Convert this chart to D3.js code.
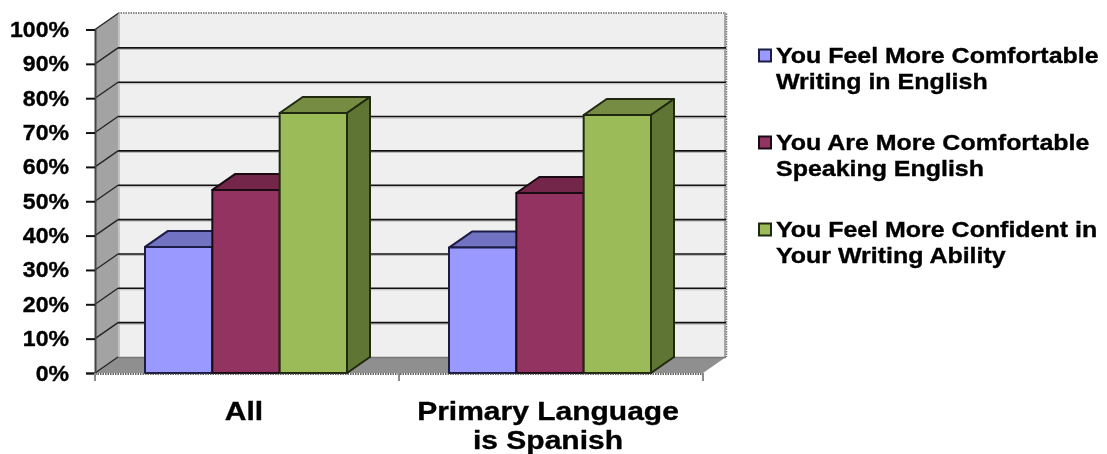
<!DOCTYPE html>
<html>
<head>
<meta charset="utf-8">
<script src="https://d3js.org/d3.v7.min.js"></script>
<style>
  html, body { margin: 0; padding: 0; background: #fff; }
  svg { display: block; filter: blur(0.45px); }
  text { font-family: "Liberation Sans", Arial, sans-serif; font-weight: bold; fill: #000; stroke: #000; stroke-width: 0.35px; }
</style>
</head>
<body>
<div id="chart"></div>
<script>
const groups = ["All", "Primary Language|is Spanish"];
const seriesNames = ["You Feel More Comfortable|Writing in English", "You Are More Comfortable|Speaking English", "You Feel More Confident in|Your Writing Ability"];
const allValues = [36.7, 53.3, 75.7];
const spanishValues = [36.5, 52.4, 75.1];
const yTicks = [0, 10, 20, 30, 40, 50, 60, 70, 80, 90, 100];
const frontColors = ["#9999ff", "#933362", "#9bbb59"];
const topColors = ["#7272c2", "#732649", "#758c42"];
const sideColors = ["#5f5fa8", "#5c1f3d", "#5f7534"];
const strokeColors = ["#1c1c44", "#1a0a12", "#20280f"];

const width = 1107, height = 454;
// the picture's text is wider than plain Liberation bold
const axisStretch = 1.05, legendStretch = 1.135, groupStretch = 1.2;
const depthX = 23, depthY = -16;

const svg = d3.select("#chart").append("svg")
    .attr("width", width)
    .attr("height", height);

const x = d3.scaleBand().domain(groups).range([95, 703]);
const inner = d3.scaleBand().domain(d3.range(3)).range([50, 252]);
const y = d3.scaleLinear().domain([0, 100]).range([373, 29.5]);

const poly = pts => pts.map(p => p.join(",")).join(" ");

// back wall
svg.append("polygon")
    .attr("points", poly([[95 + depthX, y(100) + depthY], [703 + depthX, y(100) + depthY], [703 + depthX, y(0) + depthY], [95 + depthX, y(0) + depthY]]))
    .attr("fill", "#efefef");

// shaded edges of the back wall
svg.append("line").attr("x1", 95 + depthX + 1).attr("x2", 95 + depthX + 1).attr("y1", y(100) + depthY).attr("y2", y(0) + depthY)
    .attr("stroke", "#c4c4c4").attr("stroke-width", 2);
svg.append("line").attr("x1", 703 + depthX - 1).attr("x2", 703 + depthX - 1).attr("y1", y(100) + depthY).attr("y2", y(0) + depthY)
    .attr("stroke", "#a8a8a8").attr("stroke-width", 2);
svg.append("line").attr("x1", 95 + depthX).attr("x2", 703 + depthX).attr("y1", y(100) + depthY - 0.5).attr("y2", y(100) + depthY - 0.5)
    .attr("stroke", "#666").attr("stroke-width", 1.5).attr("stroke-dasharray", "1.5 1");
svg.append("line").attr("x1", 703 + depthX + 0.5).attr("x2", 703 + depthX + 0.5).attr("y1", y(100) + depthY).attr("y2", y(0) + depthY)
    .attr("stroke", "#777").attr("stroke-width", 1.5).attr("stroke-dasharray", "1.5 1");

// left wall and floor
svg.append("polygon")
    .attr("points", poly([[95, y(100)], [95 + depthX, y(100) + depthY], [95 + depthX, y(0) + depthY], [95, y(0)]]))
    .attr("fill", "#a3a3a3");
svg.append("polygon")
    .attr("points", poly([[95, y(0)], [703, y(0)], [703 + depthX, y(0) + depthY], [95 + depthX, y(0) + depthY]]))
    .attr("fill", "#8f8f8f");

// gridlines along back wall, then slanting down the left wall
const gridTicks = yTicks.slice(1, -1);
svg.selectAll(".grid-shadow").data(gridTicks).enter().append("line")
    .attr("x1", 95 + depthX).attr("x2", 703 + depthX)
    .attr("y1", d => y(d) + depthY + 1.5).attr("y2", d => y(d) + depthY + 1.5)
    .attr("stroke", "#b5b5b5").attr("stroke-width", 1);
svg.selectAll(".grid").data(gridTicks).enter().append("line")
    .attr("x1", 95 + depthX).attr("x2", 703 + depthX)
    .attr("y1", d => y(d) + depthY).attr("y2", d => y(d) + depthY)
    .attr("stroke", "#111").attr("stroke-width", 1.6);
svg.selectAll(".slant").data(yTicks).enter().append("line")
    .attr("x1", 95).attr("x2", 95 + depthX)
    .attr("y1", d => y(d)).attr("y2", d => y(d) + depthY)
    .attr("stroke", "#222").attr("stroke-width", 1.3);
svg.append("line")
    .attr("x1", 95 + depthX).attr("x2", 703 + depthX)
    .attr("y1", y(0) + depthY + 0.5).attr("y2", y(0) + depthY + 0.5)
    .attr("stroke", "#777").attr("stroke-width", 1.5);

// bars, left to right so the next front covers the previous side
const rows = [allValues, spanishValues];
groups.forEach((g, gi) => {
    rows[gi].forEach((v, si) => {
        const x0 = x(g) + inner(si), x1 = x0 + inner.bandwidth();
        const yTop = y(v), yBase = y(0);
        const bar = svg.append("g").attr("stroke", strokeColors[si]).attr("stroke-width", 2).attr("stroke-linejoin", "round");
        bar.append("polygon")
            .attr("points", poly([[x0, yTop], [x1, yTop], [x1 + depthX, yTop + depthY], [x0 + depthX, yTop + depthY]]))
            .attr("fill", topColors[si]);
        bar.append("polygon")
            .attr("points", poly([[x1, yTop], [x1 + depthX, yTop + depthY], [x1 + depthX, yBase + depthY], [x1, yBase]]))
            .attr("fill", sideColors[si]);
        bar.append("rect")
            .attr("x", x0).attr("y", yTop)
            .attr("width", x1 - x0).attr("height", yBase - yTop)
            .attr("fill", frontColors[si]);
    });
});

// y axis
const yAxis = svg.append("g")
    .attr("transform", "translate(95,0)")
    .call(d3.axisLeft(y).tickValues(yTicks).tickFormat(d => d + "%").tickSize(9).tickPadding(17));
yAxis.select(".domain").attr("stroke", "#444").attr("stroke-width", 2);
yAxis.selectAll(".tick line").attr("stroke", "#111").attr("stroke-width", 2);
yAxis.selectAll("text")
    .attr("font-size", 22)
    .attr("x", function () { return +d3.select(this).attr("x") / axisStretch; })
    .attr("transform", `scale(${axisStretch},1)`);

// x axis line and its ticks
svg.append("line")
    .attr("x1", 95).attr("x2", 703).attr("y1", y(0) + 1).attr("y2", y(0) + 1)
    .attr("stroke", "#333").attr("stroke-width", 1.6).attr("stroke-dasharray", "1.5 1");
const xEdges = [...groups.map(g => x(g)), x.range()[1]];
svg.selectAll(".xtick").data(xEdges).enter().append("line")
    .attr("x1", d => d).attr("x2", d => d)
    .attr("y1", y(0)).attr("y2", y(0) + 8)
    .attr("stroke", "#8a8a8a").attr("stroke-width", 2);

// group labels
groups.forEach(g => {
    g.split("|").forEach((line, i) => {
        svg.append("text")
            .attr("transform", `translate(${x(g) + x.bandwidth() / 2 - 3},${420 + i * 28.5}) scale(${groupStretch},1)`)
            .attr("text-anchor", "middle")
            .attr("font-size", 25)
            .text(line);
    });
});

// legend
const legendY = d3.scalePoint().domain(d3.range(3)).range([55.5, 229.5]);
seriesNames.forEach((name, i) => {
    const row = svg.append("g").attr("transform", `translate(759,${legendY(i)})`);
    row.append("rect")
        .attr("x", 0).attr("y", -6).attr("width", 12).attr("height", 12)
        .attr("fill", frontColors[i])
        .attr("stroke", strokeColors[i]).attr("stroke-width", 2);
    name.split("|").forEach((line, j) => {
        row.append("text")
            .attr("transform", `translate(17,${7 + j * 26}) scale(${legendStretch},1)`)
            .attr("font-size", 22)
            .text(line);
    });
});
</script>
</body>
</html>
